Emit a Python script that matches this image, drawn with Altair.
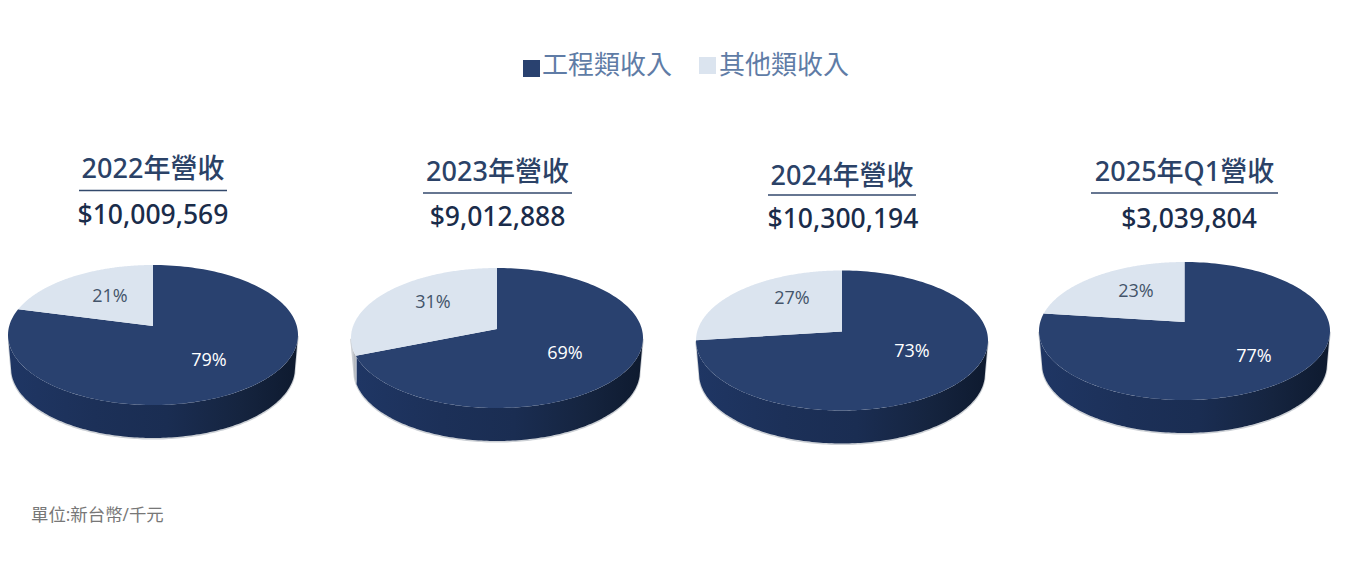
import numpy as np
import pandas as pd
import altair as alt

# ---- values ----
titles = ["2022年營收", "2023年營收", "2024年營收", "2025年Q1營收"]
amounts = ["$10,009,569", "$9,012,888", "$10,300,194", "$3,039,804"]
series = ["工程類收入", "其他類收入"]
eng_share = [79, 69, 73, 77]
other_share = [21, 31, 27, 23]
unit_note = "單位:新台幣/千元"

# ---- layout (page pixels) ----
W, H = 1339, 565
DARK, LIGHT = "#29416f", "#dbe4ef"
FONT = "Open Sans, Noto Sans CJK TC, sans-serif"
HEAD_FONT = "Noto Sans, Noto Sans CJK TC, sans-serif"
cx = [153, 497, 842, 1184.5]
top = [265, 268, 270.5, 262]
bot = [405, 408, 410.5, 400]
rx = [145, 146, 146, 145.5]
DEPTH = 33
INSET = 3
APEX = 9
title_cx = [153, 497.5, 842, 1184.5]
title_y = [169.5, 172.5, 176.5, 172.5]
rule_y = [190.5, 193, 195, 193]
rule_x = [(79, 227), (423, 572), (768, 916), (1091, 1278)]
amount_x = [153, 497.5, 843, 1189]
amount_y = [216, 218, 220, 220]
other_lab = [(110, 297), (433, 303), (792, 299), (1136, 292)]
eng_lab = [(209, 361), (565, 354), (912, 352), (1254, 357)]
N = 160

xs = alt.Scale(domain=[8, 8 + W], nice=False, zero=False)
ys = alt.Scale(domain=[8 + H, 8], nice=False, zero=False)
X = alt.X("x:Q", scale=xs, axis=None)
Y = alt.Y("y:Q", scale=ys, axis=None)
Y2 = alt.Y2("y2:Q")


def edge(theta, ap):
    """Ray from the (tilted) apex to the rim of the unit circle; theta clockwise from top."""
    dx, dy = np.sin(theta), np.cos(theta)
    pd_ = ap * dy
    t = -pd_ + np.sqrt(pd_ ** 2 + 1 - ap ** 2)
    return dx * t, ap + dy * t


top_rows, side_dark, side_light, halo = [], [], [], []
for i in range(4):
    ry = (bot[i] - top[i]) / 2
    cy = (bot[i] + top[i]) / 2
    ap = APEX / ry
    spans = [("eng", 0, eng_share[i]), ("other", eng_share[i], 100)]
    for name, a, b in spans:
        th = np.linspace(a, b, N) / 100 * 2 * np.pi
        ux, uy = edge(th, ap)
        px = np.r_[cx[i], cx[i] + rx[i] * ux]
        py = np.r_[cy - APEX, cy - ry * uy]
        for k, (p, q) in enumerate(zip(px, py)):
            top_rows.append(dict(pie=i, s=name, o=k, x=p, y=q))
    ex, ey = edge(eng_share[i] / 100 * 2 * np.pi, ap)
    split = -1.0 if ey >= 0 else ex
    inner = rx[i] - INSET
    u = np.cos(np.linspace(np.pi, 0, N))
    for v in u:
        px = cx[i] + rx[i] * v
        d = abs(px - cx[i])
        py = cy + ry * np.sqrt(max(0, 1 - v * v))
        if d <= inner:
            py2 = cy + DEPTH + ry * np.sqrt(max(0, 1 - (d / inner) ** 2))
        else:
            py2 = cy + (rx[i] - d) / INSET * DEPTH
        py2 = max(py, py2)
        row = dict(pie=i, x=px, y=py, y2=py2)
        halo.append(dict(pie=i, x=px, y=py2 + 0.8))
        (side_dark if v >= split else side_light).append(row)

top_df = pd.DataFrame(top_rows)
sd_df = pd.DataFrame(side_dark)
sl_df = pd.DataFrame(side_light)
halo_df = pd.DataFrame(halo)

wall_grad = alt.Gradient(
    gradient="linear", x1=0, x2=1, y1=0, y2=0,
    stops=[
        alt.GradientStop(color="#1f3664", offset=0),
        alt.GradientStop(color="#1c3058", offset=0.3),
        alt.GradientStop(color="#1a2d52", offset=0.55),
        alt.GradientStop(color="#15243f", offset=0.8),
        alt.GradientStop(color="#0e1a2f", offset=1),
    ],
)
grey_grad = alt.Gradient(
    gradient="linear", x1=0, x2=1, y1=0, y2=0,
    stops=[
        alt.GradientStop(color="#dfe2e6", offset=0),
        alt.GradientStop(color="#a6abb2", offset=1),
    ],
)

layers = [
    alt.Chart(halo_df).mark_line(color="#ccd0d5", strokeWidth=1.5).encode(x=X, y=Y, detail="pie:N"),
    alt.Chart(sd_df).mark_area(color=wall_grad).encode(x=X, y=Y, y2=Y2, detail="pie:N"),
]
if len(sl_df):
    layers.append(alt.Chart(sl_df).mark_area(color=grey_grad).encode(x=X, y=Y, y2=Y2, detail="pie:N"))

layers.append(
    alt.Chart(top_df).mark_line(filled=True, strokeWidth=0).encode(
        x=X, y=Y, order="o:Q", detail="pie:N",
        fill=alt.Fill("s:N", scale=alt.Scale(domain=["eng", "other"], range=[DARK, LIGHT]), legend=None),
    )
)

# percent labels
lab_df = pd.DataFrame(
    [dict(x=eng_lab[i][0], y=eng_lab[i][1], t=f"{eng_share[i]}%") for i in range(4)]
)
lab2_df = pd.DataFrame(
    [dict(x=other_lab[i][0], y=other_lab[i][1], t=f"{other_share[i]}%") for i in range(4)]
)
layers.append(alt.Chart(lab_df).mark_text(fontSize=18, font=FONT, color="#ffffff").encode(x=X, y=Y, text="t:N"))
layers.append(alt.Chart(lab2_df).mark_text(fontSize=18, font=FONT, color="#44546a").encode(x=X, y=Y, text="t:N"))

# headings
t_df = pd.DataFrame(dict(x=title_cx, y=title_y, t=titles))
a_df = pd.DataFrame(dict(x=amount_x, y=amount_y, t=amounts))
r_df = pd.DataFrame(dict(x=[a for a, _ in rule_x], x2=[b for _, b in rule_x], y=rule_y))
layers.append(alt.Chart(t_df).mark_text(fontSize=27, fontWeight=500, font=HEAD_FONT, color="#2b4267").encode(x=X, y=Y, text="t:N"))
layers.append(alt.Chart(r_df).mark_rule(color="#33496c", strokeWidth=1.6).encode(x=X, x2=alt.X2("x2:Q"), y=Y))
layers.append(alt.Chart(a_df).mark_text(fontSize=26.5, fontWeight=500, font=HEAD_FONT, color="#1a2c4a").encode(x=X, y=Y, text="t:N"))

# hand-placed legend
leg_sq = pd.DataFrame(dict(x=[531.5, 707.5], y=[68.5, 65.5], s=series))
leg_tx = pd.DataFrame(dict(x=[542, 719], y=[65.5, 65.5], s=series))
layers.append(
    alt.Chart(leg_sq).mark_point(shape="square", filled=True, opacity=1, size=289).encode(
        x=X, y=Y,
        color=alt.Color("s:N", scale=alt.Scale(domain=series, range=[DARK, LIGHT]), legend=None),
    )
)
layers.append(
    alt.Chart(leg_tx).mark_text(fontSize=26, font=FONT, align="left", color="#5f7ca6").encode(x=X, y=Y, text="s:N")
)

# footnote
note_df = pd.DataFrame(dict(x=[31], y=[515.5], t=[unit_note]))
layers.append(
    alt.Chart(note_df).mark_text(fontSize=17.4, font=FONT, align="left", color="#777777").encode(x=X, y=Y, text="t:N")
)

chart = (
    alt.layer(*layers)
    .properties(width=W, height=H, padding=0, background="#ffffff", autosize=alt.AutoSizeParams(type="none"))
    .configure_view(stroke=None)
    .resolve_scale(color="independent", fill="independent")
)
chart.save("out.html", embed_options={"renderer": "svg", "actions": False})
